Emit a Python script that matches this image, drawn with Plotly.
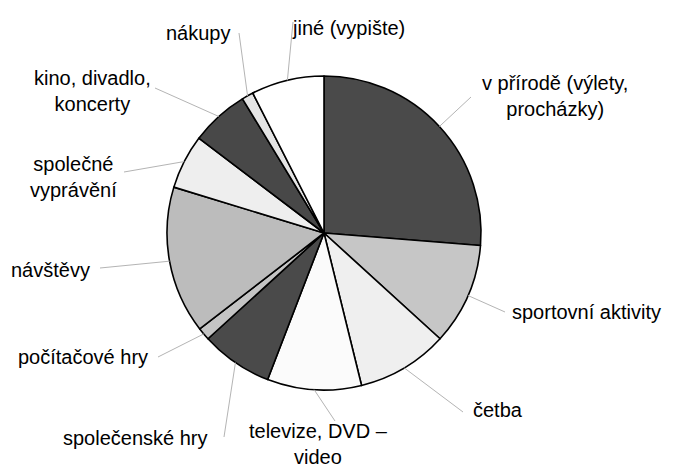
import math
import plotly.graph_objects as go

W, H = 673, 467
PAGE_MARGIN = 8  # default body margin of the html page

# data
labels = ['v přírodě (výlety,<br>procházky)', 'sportovní aktivity', 'četba',
          'televize, DVD –<br>video', 'společenské hry', 'počítačové hry',
          'návštěvy', 'společné<br>vyprávění', 'kino, divadlo,<br>koncerty',
          'nákupy', 'jiné (vypište)']
values = [26.3, 10.5, 9.4, 9.7, 7.4, 1.3, 15.2, 5.6, 6.0, 1.2, 7.5]

colors = ['#4a4a4a', '#c6c6c6', '#efefef', '#fbfbfb', '#4a4a4a', '#c4c4c4',
          '#bcbcbc', '#eeeeee', '#484848', '#e4e4e4', '#ffffff']

# pie geometry in window pixels
CX, CY, R = 324, 233, 157

# label placement (window pixels): knee of leader, text point, anchor
label_pos = [
    ((471, 97), (555, 96), 'center'),
    ((505, 312), (510, 312), 'left'),
    ((463, 412), (471, 410), 'left'),
    ((335, 421), (318, 444), 'center'),
    ((224, 437), (210, 438), 'right'),
    ((158, 357), (150, 357), 'right'),
    ((100, 268), (92, 270), 'right'),
    ((124, 172), (73, 177), 'center'),
    ((155, 88), (92, 91), 'center'),
    ((239, 33), (233, 33), 'right'),
    ((293, 22), (290, 28), 'left'),
]

FW, FH = W - PAGE_MARGIN, H - PAGE_MARGIN


def px(x):
    return (x - PAGE_MARGIN) / FW


def py(y):
    return 1 - (y - PAGE_MARGIN) / FH


fig = go.Figure()
fig.add_trace(go.Pie(
    labels=labels, values=values, sort=False, direction='clockwise',
    marker=dict(colors=colors, line=dict(color='black', width=1.6)),
    textinfo='none', hoverinfo='label+percent',
    domain=dict(x=[px(CX - R), px(CX + R)], y=[py(CY + R), py(CY - R)]),
))

annot = []
shapes = []
total = sum(values)
cum = 0
for i, v in enumerate(values):
    mid = (cum + v / 2) / total * 2 * math.pi
    cum += v
    x0 = CX + R * math.sin(mid)
    y0 = CY - R * math.cos(mid)
    (kx, ky), (tx, ty), anchor = label_pos[i]
    shapes.append(dict(type='line', xref='paper', yref='paper',
                       x0=px(x0), y0=py(y0), x1=px(kx), y1=py(ky),
                       line=dict(color='#b4b4b4', width=1)))
    annot.append(dict(x=px(tx), y=py(ty), xref='paper', yref='paper',
                      text=labels[i], showarrow=False, xanchor=anchor,
                      yanchor='middle', align='center',
                      font=dict(size=20, color='black')))

fig.update_layout(
    width=FW, height=FH, margin=dict(l=0, r=0, t=0, b=0),
    paper_bgcolor='white', plot_bgcolor='white', showlegend=False,
    font=dict(family='Liberation Sans, Arial, sans-serif'),
    annotations=annot, shapes=shapes,
)

fig.write_html('out.html')
